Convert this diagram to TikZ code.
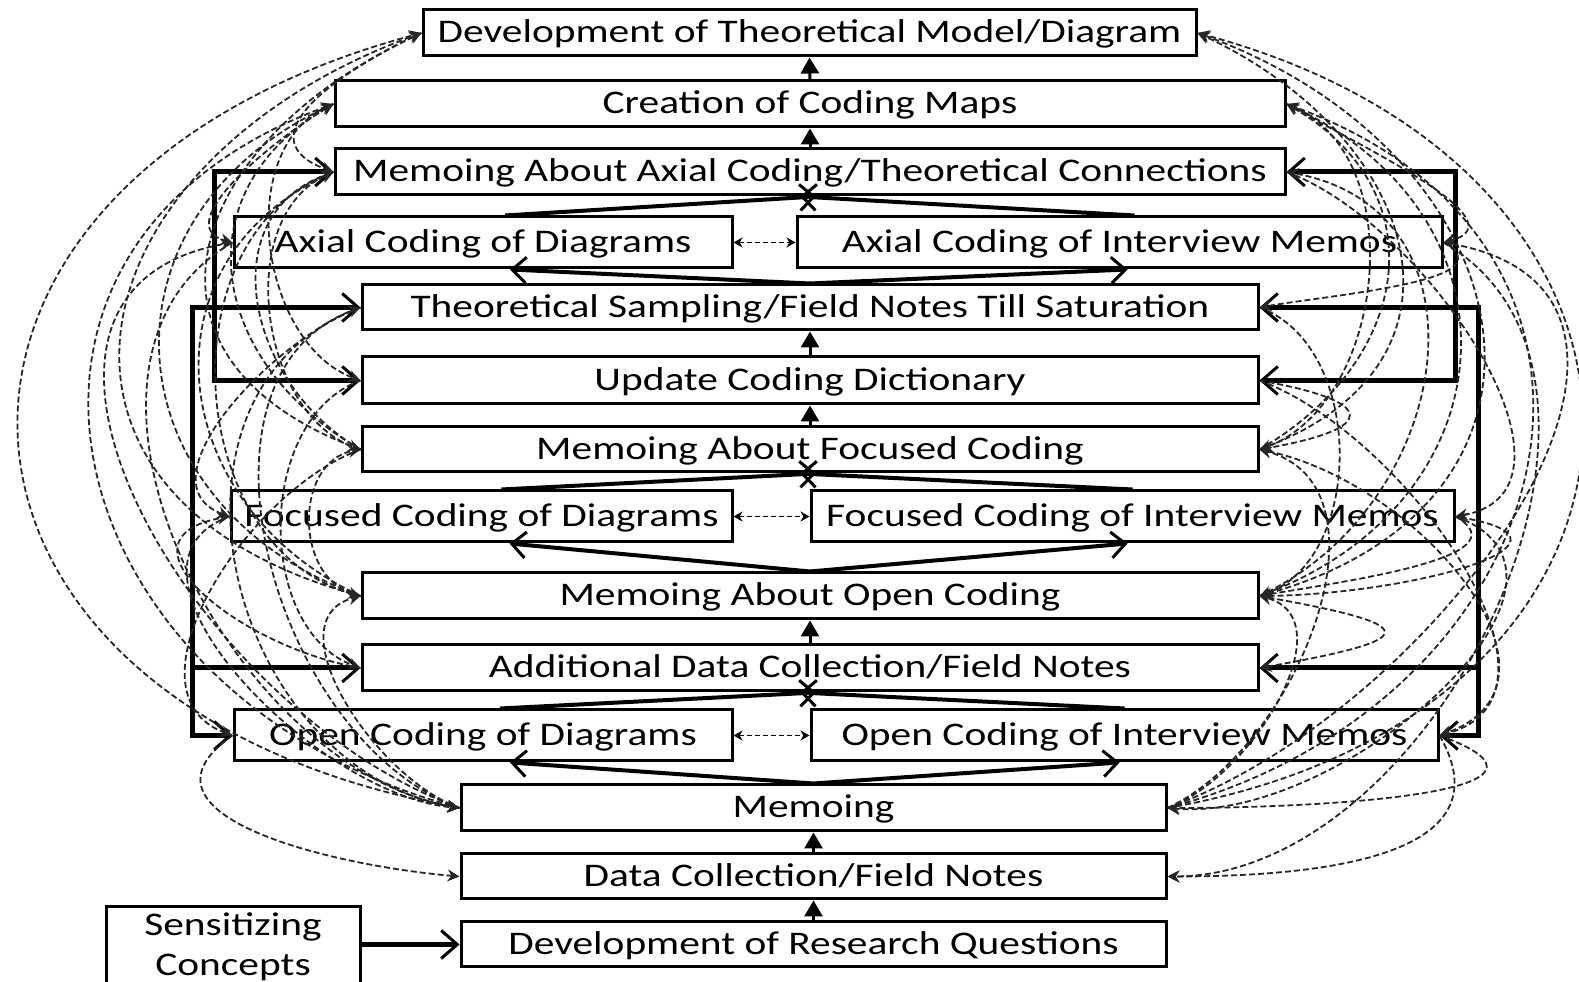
\documentclass[tikz,border=0pt]{standalone}
\usepackage{fontspec}
\setmainfont{Carlito}[FakeStretch=1.255]
\usetikzlibrary{arrows.meta}
\tikzset{bb/.tip={Straight Barb[length=16pt,width=28pt,line width=3pt]}}
\begin{document}
\begin{tikzpicture}[x=1pt,y=1pt,
  every node/.style={font=\fontsize{33}{38}\selectfont},
  bx/.style={draw, line width=3pt, inner sep=0pt, text height=22pt, text depth=2pt},
  thk/.style={line width=5pt, line join=miter},
  upa/.style={line width=3pt, -{Triangle[length=16pt,width=18pt]}},
  xar/.style={line width=4pt, -{Straight Barb[length=14pt,width=26pt,line width=3pt]}},
  dsh/.style={line width=1.8pt, black!85, dash pattern=on 6pt off 3pt, -{Stealth[length=12pt,width=12pt]}},
  pair/.style={line width=1.6pt, dash pattern=on 5pt off 3pt, {Stealth[length=9pt,width=10pt]}-{Stealth[length=9pt,width=10pt]}}
]
\useasboundingbox (0,0) rectangle (1579,982);
\clip (0,0) rectangle (1579,982);

% boxes
\node[bx, minimum width=773pt, minimum height=46pt] (Dev) at (809.5,949) {Development of Theoretical Model/Diagram};
\node[bx, minimum width=950pt, minimum height=46pt] (Cre) at (810,878) {Creation of Coding Maps};
\node[bx, minimum width=950pt, minimum height=46pt] (MAx) at (810,810) {Memoing About Axial Coding/Theoretical Connections};
\node[bx, minimum width=498pt, minimum height=51pt] (AxD) at (483,739.5) {Axial Coding of Diagrams};
\node[bx, minimum width=645pt, minimum height=51pt] (AxI) at (1119.5,739.5) {Axial Coding of Interview Memos};
\node[bx, minimum width=896pt, minimum height=45pt] (TS) at (810,674.5) {Theoretical Sampling/Field Notes Till Saturation};
\node[bx, minimum width=896pt, minimum height=47pt] (Upd) at (810,601.5) {Update Coding Dictionary};
\node[bx, minimum width=896pt, minimum height=45pt] (MF) at (810,532.5) {Memoing About Focused Coding};
\node[bx, minimum width=501pt, minimum height=51pt] (FD) at (481.5,465.5) {Focused Coding of Diagrams};
\node[bx, minimum width=643pt, minimum height=51pt] (FI) at (1132.5,465.5) {Focused Coding of Interview Memos};
\node[bx, minimum width=896pt, minimum height=46pt] (MO) at (810,386) {Memoing About Open Coding};
\node[bx, minimum width=896pt, minimum height=46pt] (Add) at (810,314) {Additional Data Collection/Field Notes};
\node[bx, minimum width=498pt, minimum height=51pt] (OD) at (483,246.5) {Open Coding of Diagrams};
\node[bx, minimum width=627pt, minimum height=51pt] (OI) at (1124.5,246.5) {Open Coding of Interview Memos};
\node[bx, minimum width=705pt, minimum height=46pt] (Mem) at (813.5,174) {Memoing};
\node[bx, minimum width=705pt, minimum height=45pt] (DC) at (813.5,105.5) {Data Collection/Field Notes};
\node[bx, minimum width=705pt, minimum height=45pt] (DRQ) at (813.5,37.5) {Development of Research Questions};
\node[draw, line width=3pt, anchor=north, minimum width=254pt, inner ysep=6pt, align=center, font=\fontsize{33}{40}\selectfont] (Sens) at (233,77) {Sensitizing\\Concepts};

% vertical up arrows
\draw[upa] (Cre.north) -- (Dev.south);
\draw[upa] (MAx.north) -- (Cre.south);
\draw[upa] (Upd.north) -- (TS.south);
\draw[upa] (MF.north) -- (Upd.south);
\draw[upa] (Add.north) -- (MO.south);
\draw[upa] (DC.north) -- (Mem.south);
\draw[upa] (DRQ.north) -- (DC.south);

% crossing arrows
\draw[xar] ([xshift=22pt]AxD.north) -- ([xshift=6pt]MAx.south);
\draw[xar] ([xshift=15pt]AxI.north) -- ([xshift=-10pt]MAx.south);
\draw[xar] (TS.north) -- ([xshift=27pt]AxD.south);
\draw[xar] (TS.north) -- ([xshift=8pt]AxI.south);
\draw[xar] ([xshift=20pt]FD.north) -- ([xshift=6pt]MF.south);
\draw[xar] ([xshift=0pt]FI.north) -- ([xshift=-10pt]MF.south);
\draw[xar] (MO.north) -- ([xshift=28pt]FD.south);
\draw[xar] (MO.north) -- ([xshift=-5pt]FI.south);
\draw[xar] ([xshift=17pt]OD.north) -- ([xshift=6pt]Add.south);
\draw[xar] ([xshift=0pt]OI.north) -- ([xshift=-10pt]Add.south);
\draw[xar] (Mem.north) -- ([xshift=27pt]OD.south);
\draw[xar] (Mem.north) -- ([xshift=-5pt]OI.south);

% pair dashed arrows
\draw[pair] (AxD.east) -- (AxI.west);
\draw[pair] (FD.east) -- (FI.west);
\draw[pair] (OD.east) -- (OI.west);

% thick feedback brackets
\coordinate (lax) at (214,0);
\coordinate (lbx) at (192,0);
\coordinate (rax) at (1455,0);
\coordinate (rbx) at (1478,0);
\draw[thk, {bb}-{bb}] (MAx.west) -- (MAx.west -| lax) -- (Upd.west -| lax) -- (Upd.west);
\draw[thk, {bb}-{bb}] (TS.west) -- (TS.west -| lbx) -- (OD.west -| lbx) -- (OD.west);
\draw[thk, -{bb}] (Add.west -| lbx) -- (Add.west);
\draw[thk, {bb}-{bb}] (MAx.east) -- (MAx.east -| rax) -- (Upd.east -| rax) -- (Upd.east);
\draw[thk, {bb}-{bb}] (TS.east) -- (TS.east -| rbx) -- (OI.east -| rbx) -- (OI.east);
\draw[thk, -{bb}] (Add.east -| rbx) -- (Add.east);
\draw[thk, -{bb}] (Sens.east |- DRQ.west) -- (DRQ.west);

% dashed curves, left side
\draw[dsh] (Mem.west) to[out=170,in=195,looseness=1.9] (Dev.west);
\draw[dsh] (MO.west) to[out=165,in=200,looseness=1.7] (Dev.west);
\draw[dsh] (MF.west) to[out=160,in=205,looseness=1.6] (Dev.west);
\draw[dsh] (Dev.west) to[out=205,in=160,looseness=1.5] (MAx.west);
\draw[dsh] (Mem.west) to[out=165,in=200,looseness=1.5] (Cre.west);
\draw[dsh] (MO.west) to[out=160,in=205,looseness=1.4] (Cre.west);
\draw[dsh] (MF.west) to[out=150,in=210,looseness=1.3] (Cre.west);
\draw[dsh] (MO.west) to[out=155,in=205,looseness=1.3] (MAx.west);
\draw[dsh] (MF.west) to[out=150,in=200,looseness=1.2] (MAx.west);
\draw[dsh] (Cre.west) to[out=210,in=165,looseness=1.0] (AxD.west);
\draw[dsh] (Mem.west) to[out=160,in=190,looseness=1.2] (AxD.west);
\draw[dsh] (Mem.west) to[out=160,in=200,looseness=1.0] (TS.west);
\draw[dsh] (Cre.west) to[out=200,in=160,looseness=1.0] (Upd.west);
\draw[dsh] (MAx.west) to[out=200,in=160,looseness=1.0] (MF.west);
\draw[dsh] (MO.west) to[out=170,in=190,looseness=1.2] (MF.west);
\draw[dsh] (TS.west) to[out=200,in=160,looseness=1.0] (FD.west);
\draw[dsh] (Add.west) to[out=170,in=190,looseness=1.6] (FD.west);
\draw[dsh] (MAx.west) to[out=200,in=165,looseness=1.1] (MO.west);
\draw[dsh] (Mem.west) to[out=160,in=195,looseness=1.0] (MO.west);
\draw[dsh] (Upd.west) to[out=200,in=160,looseness=1.0] (Add.west);
\draw[dsh] (MF.west) to[out=200,in=160,looseness=1.0] (OD.west);
\draw[dsh] (TS.west) to[out=200,in=170,looseness=1.2] (Mem.west);
\draw[dsh] (AxD.west) to[out=210,in=170,looseness=1.0] (Mem.west);
\draw[dsh] (FD.west) to[out=200,in=175,looseness=1.0] (Mem.west);
\draw[dsh] (OD.west) to[out=215,in=175,looseness=1.3] (DC.west);

% dashed curves, right side
\draw[dsh] (Mem.east) to[out=10,in=-15,looseness=1.8] (Dev.east);
\draw[dsh] (MO.east) to[out=15,in=-20,looseness=1.6] (Dev.east);
\draw[dsh] (MF.east) to[out=20,in=-25,looseness=1.5] (Dev.east);
\draw[dsh] (Mem.east) to[out=15,in=-20,looseness=1.5] (Cre.east);
\draw[dsh] (MO.east) to[out=20,in=-25,looseness=1.4] (Cre.east);
\draw[dsh] (MF.east) to[out=30,in=-30,looseness=1.3] (Cre.east);
\draw[dsh] (MO.east) to[out=25,in=-10,looseness=1.3] (MAx.east);
\draw[dsh] (Cre.east) to[out=-30,in=15,looseness=1.0] (AxI.east);
\draw[dsh] (Mem.east) to[out=20,in=-10,looseness=1.2] (AxI.east);
\draw[dsh] (AxI.east) to[out=-30,in=10,looseness=1.0] (TS.east);
\draw[dsh] (Upd.east) to[out=-10,in=10,looseness=4.5] (MF.east);
\draw[dsh] (Mem.east) to[out=25,in=-15,looseness=1.0] (MF.east);
\draw[dsh] (Cre.east) to[out=-20,in=20,looseness=1.0] (MF.east);
\draw[dsh] (MAx.east) to[out=-20,in=10,looseness=1.0] (FI.east);
\draw[dsh] (MO.east) to[out=0,in=-10,looseness=1.8] (FI.east);
\draw[dsh] (TS.east) to[out=-20,in=20,looseness=1.0] (MO.east);
\draw[dsh] (FI.east) to[out=-30,in=10,looseness=1.0] (MO.east);
\draw[dsh] (Mem.east) to[out=20,in=-15,looseness=1.0] (MO.east);
\draw[dsh] (MO.east) to[out=-10,in=10,looseness=6] (Add.east);
\draw[dsh] (Upd.east) to[out=-20,in=15,looseness=1.0] (OI.east);
\draw[dsh] (MF.east) to[out=-10,in=20,looseness=1.2] (OI.east);
\draw[dsh] (OI.east) to[out=-20,in=0,looseness=1.5] (Mem.east);
\draw[dsh] (FI.east) to[out=-20,in=-5,looseness=1.1] (Mem.east);
\draw[dsh] (AxI.east) to[out=-30,in=0,looseness=1.0] (DC.east);
\draw[dsh] (OI.east) to[out=-60,in=0,looseness=1.2] (DC.east);
\end{tikzpicture}
\end{document}
